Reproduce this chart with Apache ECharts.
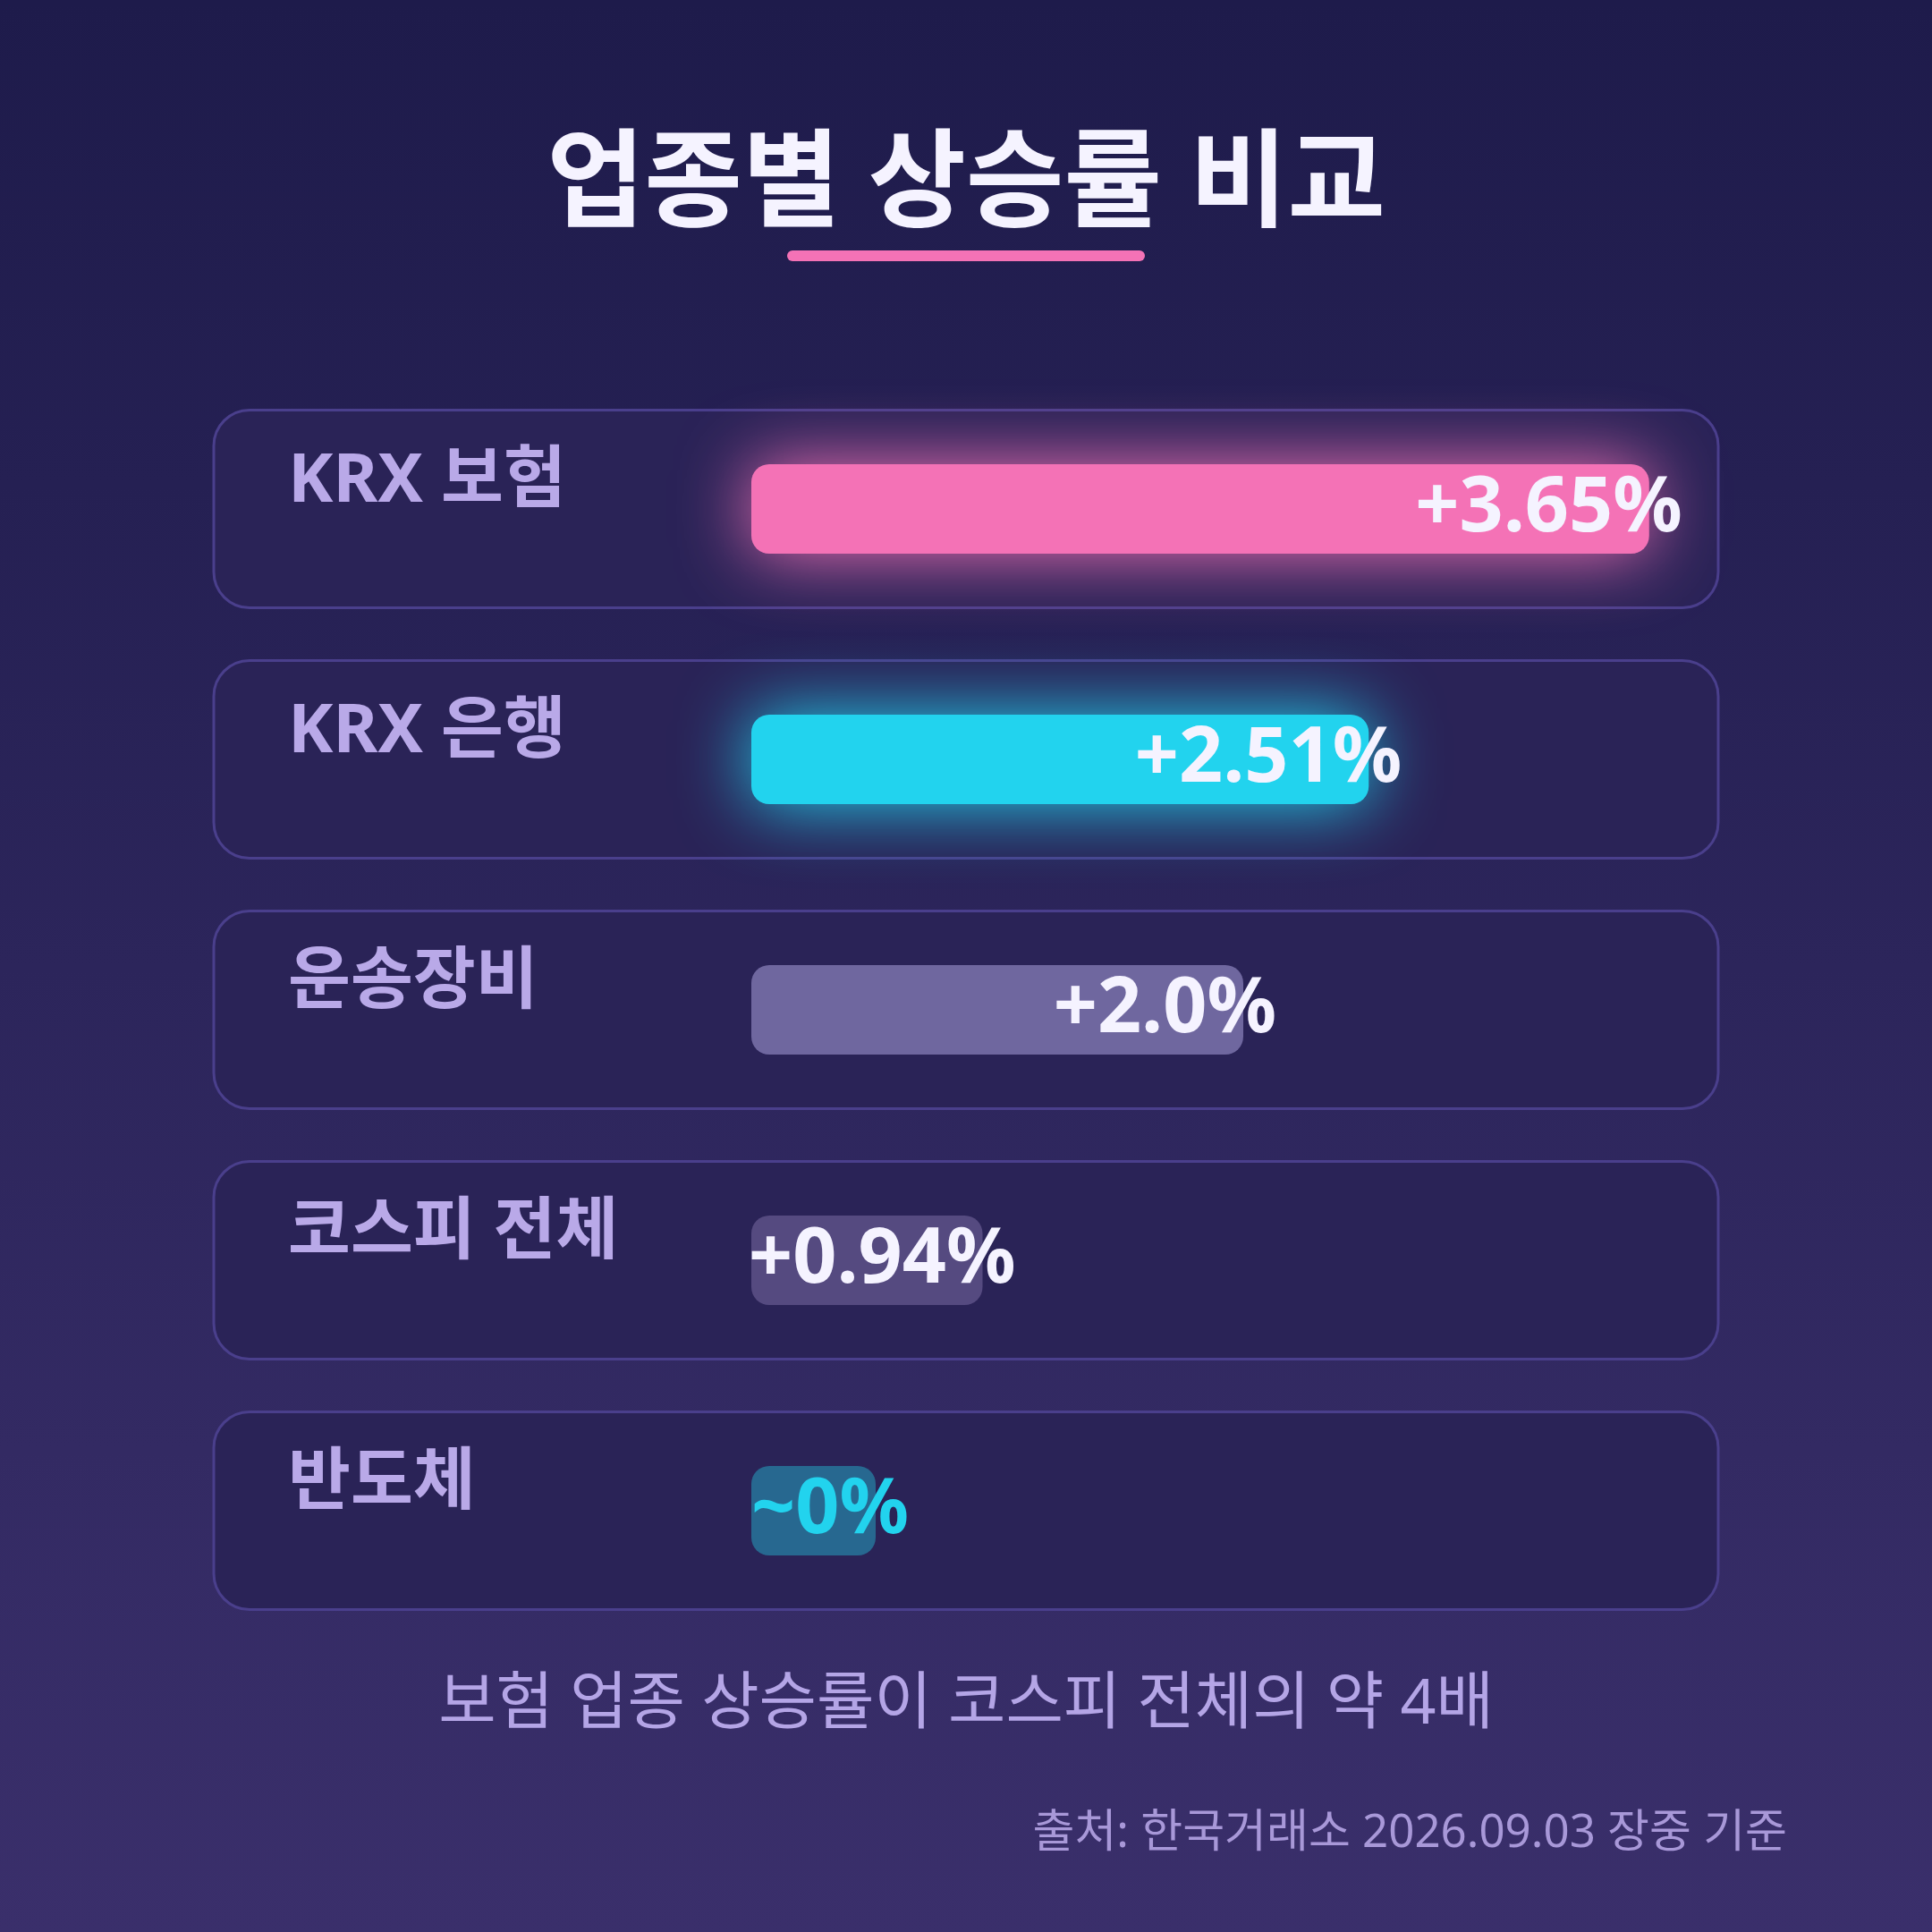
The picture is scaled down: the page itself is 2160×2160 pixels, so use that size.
<!DOCTYPE html>
<html><head><meta charset="utf-8">
<script src="https://cdn.jsdelivr.net/npm/echarts@6/dist/echarts.min.js"></script>
<style>html,body{margin:0;padding:0;background:#1e1b4b}#c{width:2160px;height:2160px}</style>
</head><body><div id="c"></div>
<script>
// ---- data ----
const categories = ['KRX 보험', 'KRX 은행', '운송장비', '코스피 전체', '반도체'];
const changeValues = [3.65, 2.51, 2.0, 0.94, 0];
const valueLabels = ['+3.65%', '+2.51%', '+2.0%', '+0.94%', '~0%'];
const titleText = '업종별 상승률 비교';
const noteText = '보험 업종 상승률이 코스피 전체의 약 4배';
const sourceText = '출처: 한국거래소 2026.09.03 장중 기준';

// ---- styles ----
const FONT = "'Noto Sans', 'Noto Sans CJK KR', sans-serif";
const barColors = ['#f472b6', '#22d3ee', '#6f679f', '#554a80', '#276890'];
const glowColors = ['rgba(244,114,182,1)', 'rgba(34,211,238,1)', 'rgba(0,0,0,0)', 'rgba(0,0,0,0)', 'rgba(0,0,0,0)'];
const labelColors = ['#f5f3ff', '#f5f3ff', '#f5f3ff', '#f5f3ff', '#22d3ee'];

const chart = echarts.init(document.getElementById('c'), null, {renderer: 'canvas'});

const barData = changeValues.map((v, i) => ({
  value: v,
  itemStyle: {color: barColors[i], shadowBlur: i < 2 ? 80 : 0, shadowColor: glowColors[i]},
  label: {color: labelColors[i]}
}));

const option = {
  backgroundColor: new echarts.graphic.LinearGradient(0, 0, 0, 1, [
    {offset: 0, color: '#1e1b4b'},
    {offset: 1, color: '#3a2f6b'}
  ]),
  title: {
    text: titleText,
    left: 'center',
    top: 146,
    textStyle: {fontFamily: FONT, fontSize: 119, fontWeight: 'bold', color: '#f5f3ff'}
  },
  grid: {left: 840, right: 220, top: 429, bottom: 331, containLabel: false},
  xAxis: {type: 'value', min: 0, max: 4, show: false},
  yAxis: {
    type: 'category',
    data: categories,
    inverse: true,
    z: 5,
    axisLine: {show: false},
    axisTick: {show: false},
    splitLine: {show: false},
    axisLabel: {
      align: 'left',
      margin: 518,
      verticalAlign: 'bottom',
      lineHeight: 60,
      fontSize: 76,
      fontWeight: 'bold',
      fontFamily: FONT,
      color: '#b9a9e8'
    }
  },
  series: [
    {
      type: 'custom',
      silent: true,
      z: 1,
      data: categories.map((c, i) => [0, i]),
      encode: {x: 0, y: 1},
      renderItem: function (params, api) {
        const cs = params.coordSys;
        const yc = api.coord([0, api.value(1)])[1];
        const band = api.size([0, 1])[1];
        const h = band * 0.79;
        return {
          type: 'rect',
          shape: {x: cs.x - 601, y: yc - h / 2, width: 1682, height: h, r: 40},
          style: {fill: '#2a2357', stroke: '#4a3f8c', lineWidth: 3}
        };
      }
    },
    {
      type: 'bar',
      z: 2,
      data: barData,
      barWidth: 100,
      barMinHeight: 139,
      itemStyle: {borderRadius: 20},
      label: {
        show: true,
        position: 'insideRight',
        distance: 0,
        offset: [37, 0],
        formatter: p => valueLabels[p.dataIndex],
        fontFamily: FONT,
        fontSize: 86,
        fontWeight: 'bold'
      }
    }
  ],
  graphic: [
    {type: 'rect', z: 10, shape: {x: 880, y: 280, width: 400, height: 12, r: 6}, style: {fill: '#f472b6'}},
    {type: 'text', z: 10, x: 1080, y: 1907, style: {text: noteText, align: 'center', verticalAlign: 'middle', font: "70px " + FONT, fill: '#b4a5e6'}},
    {type: 'text', z: 10, x: 1998, y: 2050, style: {text: sourceText, align: 'right', verticalAlign: 'middle', font: "51px " + FONT, fill: '#a898d8'}}
  ]
};
chart.setOption(option);
</script>
</body></html>
